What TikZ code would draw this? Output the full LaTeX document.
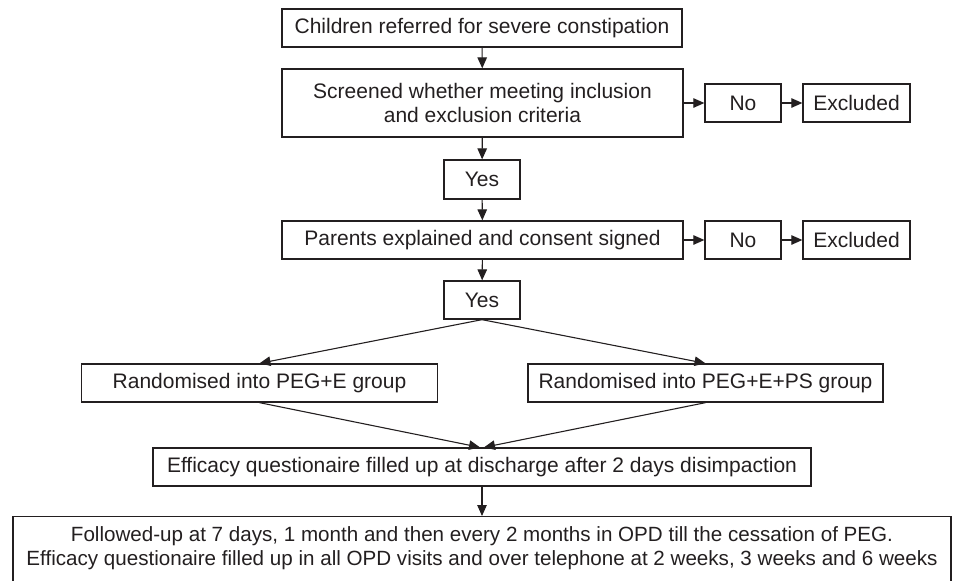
\documentclass[tikz,border=0pt]{standalone}
\usepackage{fontspec}
\setmainfont{Liberation Sans}
\usetikzlibrary{arrows.meta}
\definecolor{ink}{HTML}{231F20}
\begin{document}
\begin{tikzpicture}[x=1pt,y=-1pt,
  box/.style={draw=ink, line width=1.3pt, text=ink, inner sep=0pt, minimum height=38pt,
              font=\fontsize{21}{23.5}\selectfont, align=center},
  txt/.style={text=ink, inner sep=0pt, font=\fontsize{20.6}{24}\selectfont, align=center},
  arr/.style={draw=ink, line width=1.1pt, -{Triangle[length=11pt,width=9.5pt]}}]
\useasboundingbox (0,0) rectangle (956,581);
\clip (0,0) rectangle (956,581);
\node[box, minimum width=400pt] (b1) at (482,28) {Children referred for severe constipation};
\node[box, minimum width=401pt, minimum height=68pt] (b2) at (482.5,103) {Screened whether meeting inclusion\\and exclusion criteria};
\node[box, minimum width=76pt, minimum height=39pt] (yes1) at (482,179.5) {Yes};
\node[box, minimum width=76pt] (no1) at (743,103) {No};
\node[box, minimum width=107pt] (ex1) at (856.5,103) {Excluded};
\node[box, minimum width=401pt] (b3) at (482.5,240) {Parents explained and consent signed};
\node[box, minimum width=76pt] (no2) at (743,240) {No};
\node[box, minimum width=107pt] (ex2) at (856.5,240) {Excluded};
\node[box, minimum width=76pt] (yes2) at (482,300) {Yes};
\node[box, minimum width=356pt] (r1) at (259.5,383) {Randomised into PEG+E group};
\node[box, minimum width=355pt] (r2) at (705.5,383) {Randomised into PEG+E+PS group};
\node[box, minimum width=658pt] (eff) at (482,467) {Efficacy questionaire filled up at discharge after 2 days disimpaction};
\node[box, minimum width=938pt, minimum height=90pt, anchor=north] (fin) at (482,516) {};
\node[txt] (fintxt) at (482,548) {Followed-up at 7 days, 1 month and then every 2 months in OPD till the cessation of PEG.\\Efficacy questionaire filled up in all OPD visits and over telephone at 2 weeks, 3 weeks and 6 weeks};
\draw[arr] (b1) -- (b2);
\draw[arr] (b2) -- (yes1);
\draw[arr] (yes1) -- (b3);
\draw[arr] (b3) -- (yes2);
\draw[arr] (b2.east) -- (no1.west);
\draw[arr] (no1) -- (ex1);
\draw[arr] (b3.east) -- (no2.west);
\draw[arr] (no2) -- (ex2);
\draw[arr] (yes2.south) -- (r1.north);
\draw[arr] (yes2.south) -- (r2.north);
\draw[arr] (r1.south) -- ([xshift=-2pt]eff.north);
\draw[arr] (r2.south) -- ([xshift=2pt]eff.north);
\draw[arr] (eff) -- (fin);
\end{tikzpicture}
\end{document}
